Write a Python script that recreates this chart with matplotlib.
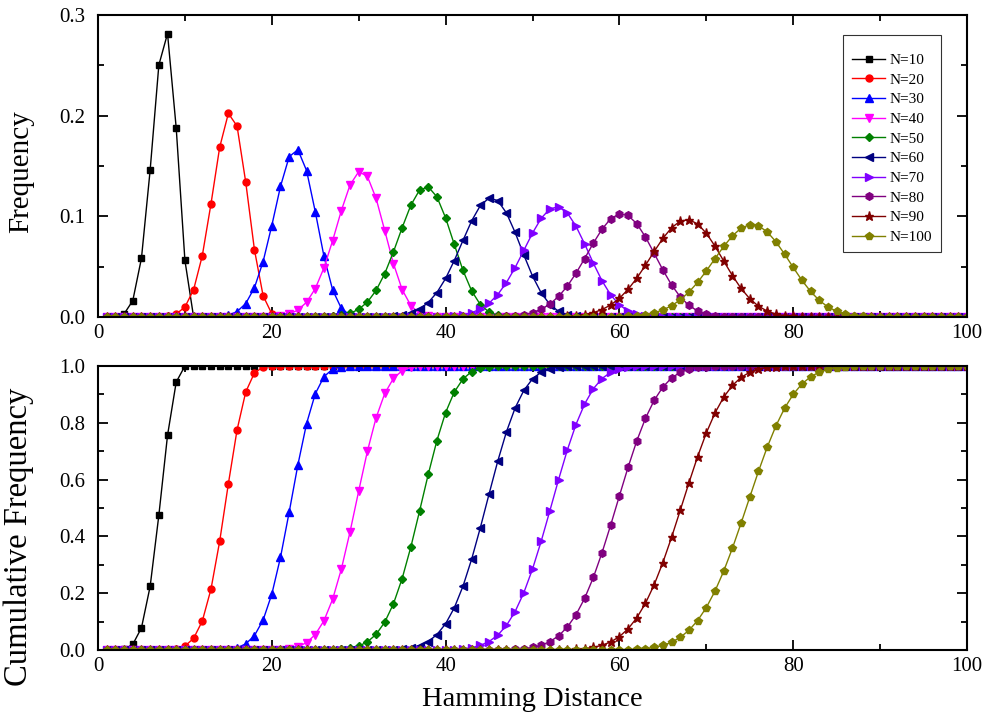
import numpy as np
import matplotlib

matplotlib.use("Agg")
import matplotlib.pyplot as plt
from matplotlib.ticker import MultipleLocator

plt.rcParams["font.family"] = ["Liberation Serif", "DejaVu Serif"]
plt.rcParams["mathtext.fontset"] = "stix"

# Hamming distances on the x axis
distance = np.arange(1, 101)

sizes = [10, 20, 30, 40, 50, 60, 70, 80, 90, 100]
# first distance of each non-zero stretch (zero everywhere else)
first_distance = [2, 7, 13, 19, 26, 32, 39, 45, 52, 59]

freq_n10 = [0.0004, 0.0031, 0.0162, 0.0584, 0.1460, 0.2503, 0.2816, 0.1877, 0.0563]
freq_n20 = [0.0002, 0.0008, 0.0030, 0.0099, 0.0271, 0.0609, 0.1124, 0.1686, 0.2023,
            0.1897, 0.1339, 0.0669, 0.0211, 0.0032]
freq_n30 = [0.0002, 0.0006, 0.0019, 0.0054, 0.0134, 0.0291, 0.0551, 0.0909, 0.1298,
            0.1593, 0.1662, 0.1455, 0.1047, 0.0604, 0.0269, 0.0086, 0.0018, 0.0002]
freq_n40 = [0.0001, 0.0004, 0.0011, 0.0029, 0.0069, 0.0147, 0.0282, 0.0488, 0.0759,
            0.1057, 0.1312, 0.1444, 0.1397, 0.1179, 0.0857, 0.0530, 0.0272, 0.0114,
            0.0037, 0.0009, 0.0001]
freq_n50 = [0.0002, 0.0007, 0.0016, 0.0036, 0.0077, 0.0148, 0.0264, 0.0432, 0.0648,
            0.0888, 0.1111, 0.1261, 0.1294, 0.1194, 0.0985, 0.0721, 0.0463, 0.0259,
            0.0123, 0.0049, 0.0016, 0.0004, 0.0001]
freq_n60 = [0.0002, 0.0004, 0.0009, 0.0020, 0.0041, 0.0079, 0.0144, 0.0243, 0.0383,
            0.0561, 0.0761, 0.0956, 0.1108, 0.1182, 0.1157, 0.1034, 0.0840, 0.0617,
            0.0407, 0.0240, 0.0124, 0.0056, 0.0022, 0.0007, 0.0002]
freq_n70 = [0.0002, 0.0005, 0.0011, 0.0022, 0.0043, 0.0079, 0.0137, 0.0223, 0.0342,
            0.0491, 0.0662, 0.0834, 0.0981, 0.1075, 0.1095, 0.1035, 0.0903, 0.0726,
            0.0535, 0.0360, 0.0219, 0.0121, 0.0059, 0.0026, 0.0010, 0.0003, 0.0001]
freq_n80 = [0.0001, 0.0003, 0.0006, 0.0012, 0.0023, 0.0044, 0.0077, 0.0129, 0.0204,
            0.0306, 0.0434, 0.0581, 0.0734, 0.0873, 0.0977, 0.1025, 0.1009, 0.0927,
            0.0795, 0.0633, 0.0468, 0.0319, 0.0200, 0.0115, 0.0060, 0.0028, 0.0012,
            0.0005, 0.0002]
freq_n90 = [0.0002, 0.0003, 0.0007, 0.0013, 0.0024, 0.0043, 0.0074, 0.0120, 0.0186,
            0.0275, 0.0386, 0.0514, 0.0651, 0.0781, 0.0887, 0.0953, 0.0967, 0.0925,
            0.0833, 0.0704, 0.0557, 0.0412, 0.0284, 0.0182, 0.0108, 0.0059, 0.0029,
            0.0013, 0.0006, 0.0002]
freq_n100 = [0.0002, 0.0004, 0.0007, 0.0014, 0.0024, 0.0042, 0.0070, 0.0112, 0.0170,
             0.0248, 0.0344, 0.0458, 0.0580, 0.0701, 0.0806, 0.0883, 0.0918, 0.0906,
             0.0847, 0.0749, 0.0626, 0.0493, 0.0365, 0.0254, 0.0165, 0.0100, 0.0057,
             0.0030, 0.0014, 0.0006, 0.0003, 0.0001]

freq_stretches = [freq_n10, freq_n20, freq_n30, freq_n40, freq_n50,
                  freq_n60, freq_n70, freq_n80, freq_n90, freq_n100]

colors = ["#000000", "#FF0000", "#0000FF", "#FF00FF", "#008000",
          "#000080", "#8000FF", "#800080", "#800000", "#808000"]
markers = ["s", "o", "^", "v", "D", "<", ">", "h", "*", "p"]
msizes = [4.5, 5, 5.5, 5.5, 4, 5.5, 5.5, 5.5, 6.5, 5.5]

fig = plt.figure(figsize=(9.92, 7.2), dpi=100)
ax1 = fig.add_axes([0.0988, 0.5597, 0.8760, 0.4194])
ax2 = fig.add_axes([0.0988, 0.0972, 0.8760, 0.3944])

for n, start, vals, c, m, ms in zip(sizes, first_distance, freq_stretches,
                                    colors, markers, msizes):
    freq = np.zeros(len(distance))
    freq[start - 1:start - 1 + len(vals)] = vals
    cum = np.cumsum(freq)
    ax1.plot(distance, freq, color=c, marker=m, ms=ms, lw=1.0, label=f"N={n}")
    ax2.plot(distance, cum, color=c, marker=m, ms=ms, lw=1.0)

for ax in (ax1, ax2):
    ax.set_xlim(0, 100)
    ax.xaxis.set_major_locator(MultipleLocator(20))
    ax.xaxis.set_minor_locator(MultipleLocator(10))
    ax.tick_params(which="both", direction="in", top=True, right=True,
                   labelsize=15, width=1.3)
    ax.tick_params(which="major", length=7)
    ax.tick_params(which="minor", length=4)
    ax.tick_params(axis="y", pad=9)
    ax.tick_params(axis="x", pad=5)
    for sp in ax.spines.values():
        sp.set_linewidth(1.5)

ax1.set_ylim(0, 0.3)
ax1.yaxis.set_major_locator(MultipleLocator(0.1))
ax1.yaxis.set_minor_locator(MultipleLocator(0.05))
ax1.yaxis.set_major_formatter(lambda v, p: f"{v:.1f}")
ax1.set_ylabel("Frequency", fontsize=21)
ax1.yaxis.set_label_coords(-0.074, 0.483)

ax2.set_ylim(0, 1.0)
ax2.yaxis.set_major_locator(MultipleLocator(0.2))
ax2.yaxis.set_minor_locator(MultipleLocator(0.1))
ax2.yaxis.set_major_formatter(lambda v, p: f"{v:.1f}")
ax2.set_ylabel("Cumulative Frequency", fontsize=23.5)
ax2.yaxis.set_label_coords(-0.074, 0.40)
ax2.set_xlabel("Hamming Distance", fontsize=20.5, labelpad=8)

leg = ax1.legend(loc="upper right", bbox_to_anchor=(0.970, 0.9340),
                 fontsize=11, frameon=True, fancybox=False, handlelength=2.2,
                 handletextpad=0.3, labelspacing=0.39, borderpad=0.55,
                 borderaxespad=0, title=" ", title_fontsize=2)
leg.get_frame().set_edgecolor("black")
leg.get_frame().set_linewidth(0.8)

fig.savefig("out.png", dpi=100)
